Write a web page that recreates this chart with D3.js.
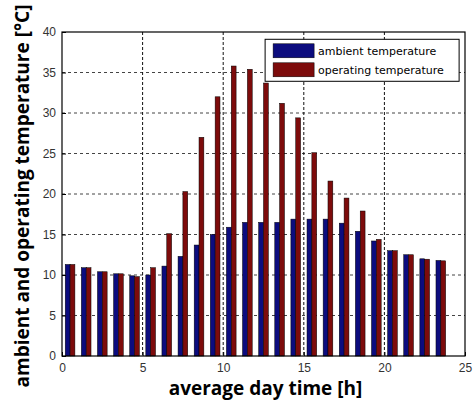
<!DOCTYPE html>
<html>
<head>
<meta charset="utf-8">
<script src="https://cdn.jsdelivr.net/npm/d3@7"></script>
<style>
  body { margin: 0; background: #fff; }
</style>
</head>
<body>
<svg id="chart" width="475" height="402"></svg>
<script>
const hours = [0.5, 1.5, 2.5, 3.5, 4.5, 5.5, 6.5, 7.5, 8.5, 9.5, 10.5, 11.5,
    12.5, 13.5, 14.5, 15.5, 16.5, 17.5, 18.5, 19.5, 20.5, 21.5, 22.5, 23.5]
const ambient = [11.3, 10.9, 10.4, 10.15, 9.9, 10.0, 11.1, 12.3, 13.7, 15.0, 15.9, 16.5,
    16.5, 16.5, 16.9, 16.9, 16.9, 16.4, 15.4, 14.2, 13.0, 12.5, 12.0, 11.8]
const operating = [11.3, 10.9, 10.4, 10.15, 9.8, 10.9, 15.1, 20.3, 27.0, 32.0, 35.8, 35.4,
    33.7, 31.2, 29.4, 25.1, 21.6, 19.5, 17.9, 14.4, 13.0, 12.5, 11.95, 11.75]
const seriesNames = ['ambient temperature', 'operating temperature']
const xTicks = [0, 5, 10, 15, 20, 25]
const yTicks = [0, 5, 10, 15, 20, 25, 30, 35, 40]

const colors = ['#0c0c7e', '#7d0b0b']
const margin = { top: 32, right: 10, bottom: 46, left: 62 }
const width = 475 - margin.left - margin.right
const height = 402 - margin.top - margin.bottom

const svg = d3.select('#chart')
const g = svg.append('g').attr('transform', `translate(${margin.left},${margin.top})`)

const x = d3.scaleLinear().domain([0, 25]).range([0, width])
const y = d3.scaleLinear().domain([0, 40]).range([height, 0])
const sub = d3.scaleBand().domain([0, 1]).range([-0.3, 0.3])

// grid
g.append('g')
    .selectAll('line')
    .data(yTicks.filter(d => d > 0 && d < 40))
    .join('line')
    .attr('x1', 0).attr('x2', width)
    .attr('y1', d => y(d)).attr('y2', d => y(d))
    .attr('stroke', '#444')
    .attr('stroke-width', 1)
    .attr('stroke-dasharray', '3,3')

g.append('g')
    .selectAll('line')
    .data(xTicks.filter(d => d > 0 && d < 25))
    .join('line')
    .attr('x1', d => x(d)).attr('x2', d => x(d))
    .attr('y1', 0).attr('y2', height)
    .attr('stroke', '#111')
    .attr('stroke-width', 1)
    .attr('stroke-dasharray', '3,2')

// bars
const rows = hours.map((h, i) => ({ h: h, vals: [ambient[i], operating[i]] }))

g.append('g')
    .selectAll('g')
    .data(rows)
    .join('g')
    .selectAll('rect')
    .data(d => d.vals.map((v, k) => ({ h: d.h, v: v, k: k })))
    .join('rect')
    .attr('x', d => x(d.h + sub(d.k)))
    .attr('width', d => x(d.h + sub(d.k) + sub.bandwidth()) - x(d.h + sub(d.k)))
    .attr('y', d => y(d.v))
    .attr('height', d => y(0) - y(d.v))
    .attr('fill', d => colors[d.k])
    .attr('stroke', '#000')
    .attr('stroke-width', 0.5)

// axes
const xAxis = g.append('g')
    .attr('transform', `translate(0,${height})`)
    .call(d3.axisBottom(x).tickValues(xTicks).tickSizeInner(-4).tickSizeOuter(0).tickPadding(7))
const yAxis = g.append('g')
    .call(d3.axisLeft(y).tickValues(yTicks).tickSizeInner(-4).tickSizeOuter(0).tickPadding(6))

for (const ax of [xAxis, yAxis]) {
    ax.select('.domain').remove()
    ax.selectAll('text')
        .style('font-family', '"Liberation Sans", Arial, sans-serif')
        .style('font-size', '12px')
        .style('fill', '#333')
}

g.append('rect')
    .attr('width', width)
    .attr('height', height)
    .attr('fill', 'none')
    .attr('stroke', '#000')
    .attr('stroke-width', 1.2)

// legend
const legend = g.append('g').attr('transform', `translate(${x(12.6)},${y(39.1)})`)
legend.append('rect')
    .attr('width', 194)
    .attr('height', 42)
    .attr('fill', '#fff')
    .attr('stroke', '#000')
    .attr('stroke-width', 1)

legend.selectAll('.sw')
    .data(seriesNames)
    .join('rect')
    .attr('x', 8)
    .attr('y', (d, i) => 4.5 + i * 19)
    .attr('width', 41)
    .attr('height', 14)
    .attr('fill', (d, i) => colors[i])
    .attr('stroke', '#000')
    .attr('stroke-width', 0.5)

legend.selectAll('text')
    .data(seriesNames)
    .join('text')
    .attr('x', 53)
    .attr('y', (d, i) => 15.5 + i * 19)
    .text(d => d)
    .style('font-family', '"DejaVu Sans", sans-serif')
    .style('font-size', '11px')
    .style('fill', '#000')

// titles
svg.append('text')
    .attr('x', margin.left + x(12.5) + 2)
    .attr('y', 395)
    .attr('text-anchor', 'middle')
    .text('average day time [h]')
    .style('font-family', '"Open Sans", sans-serif')
    .style('font-weight', 'bold')
    .style('font-size', '19px')
    .style('fill', '#000')

svg.append('text')
    .attr('transform', 'translate(29,196) rotate(-90)')
    .attr('text-anchor', 'middle')
    .text('ambient and operating temperature [°C]')
    .style('font-family', '"Open Sans", sans-serif')
    .style('font-weight', 'bold')
    .style('font-size', '19px')
    .style('fill', '#000')
</script>
</body>
</html>
